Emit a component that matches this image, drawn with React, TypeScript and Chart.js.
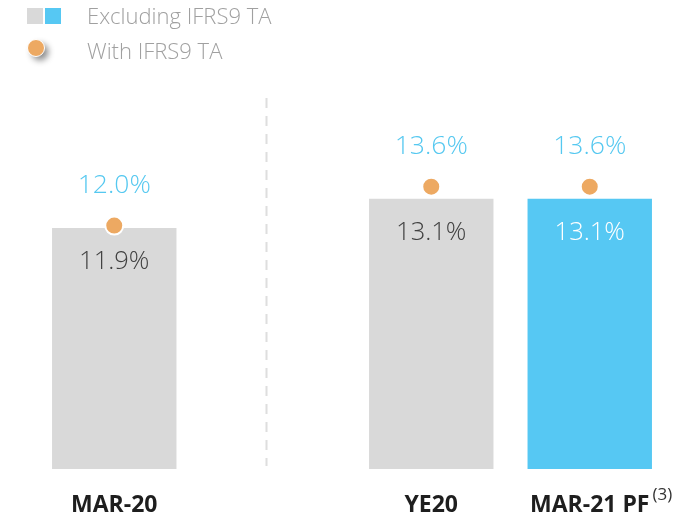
import React, { useEffect, useRef } from "react";
import { Chart, registerables } from "chart.js";

Chart.register(...registerables);

const categories = ["MAR-20", "", "YE20", "MAR-21 PF"];
const categoryNotes = ["", "", "", "(3)"];
const excludingValues = [11.9, null, 13.1, 13.1];
const withValues = [12.0, null, 13.6, 13.6];
const barColors = ["#d9d9d9", "#d9d9d9", "#d9d9d9", "#56c8f3"];
const barLabelColors = ["#404040", "#404040", "#404040", "#ffffff"];
const legendLabels = ["Excluding IFRS9 TA", "With IFRS9 TA"];

const FONT = "'Open Sans', 'Segoe UI', sans-serif";

const overlayPlugin = {
  id: "overlay",
  afterDatasetsDraw(chart: any) {
    const ctx = chart.ctx;
    const x = chart.scales.x;
    ctx.save();

    // dashed separator
    const p0 = x.getPixelForValue(0);
    const p2 = x.getPixelForValue(2);
    const sx = Math.round(p0 + 0.478 * (p2 - p0)) + 0.5;
    ctx.strokeStyle = "#dedede";
    ctx.lineWidth = 2;
    ctx.setLineDash([10, 8]);
    ctx.beginPath();
    ctx.moveTo(sx, 98);
    ctx.lineTo(sx, 466);
    ctx.stroke();
    ctx.setLineDash([]);

    // bar labels
    const barMeta = chart.getDatasetMeta(1);
    ctx.textAlign = "center";
    ctx.textBaseline = "middle";
    ctx.font = `300 25.5px ${FONT}`;
    barMeta.data.forEach((el: any, i: number) => {
      const v = excludingValues[i];
      if (v == null) return;
      ctx.fillStyle = barLabelColors[i];
      ctx.fillText(v.toFixed(1) + "%", el.x, el.y + 34);
    });

    // dot labels
    ctx.font = `300 26.5px ${FONT}`;
    const dotMeta = chart.getDatasetMeta(0);
    dotMeta.data.forEach((el: any, i: number) => {
      const v = withValues[i];
      if (v == null) return;
      ctx.fillStyle = "#55c8f0";
      ctx.fillText(v.toFixed(1) + "%", el.x, el.y - 40);
    });

    // category labels
    categories.forEach((c, i) => {
      if (!c) return;
      const cx = x.getPixelForValue(i);
      ctx.font = `bold 23px ${FONT}`;
      ctx.fillStyle = "#1e1e1e";
      ctx.textAlign = "center";
      ctx.fillText(c, cx, 505);
      if (categoryNotes[i]) {
        const w = ctx.measureText(c).width;
        ctx.font = `17px ${FONT}`;
        ctx.fillStyle = "#333";
        ctx.textAlign = "left";
        ctx.fillText(categoryNotes[i], cx + w / 2 + 3, 495);
      }
    });

    // legend
    ctx.fillStyle = barColors[0];
    ctx.fillRect(27, 8, 16, 16);
    ctx.fillStyle = barColors[3];
    ctx.fillRect(45, 8, 16, 16);

    ctx.save();
    ctx.shadowColor = "rgba(0,0,0,0.45)";
    ctx.shadowBlur = 6;
    ctx.shadowOffsetX = 4;
    ctx.shadowOffsetY = 4;
    ctx.beginPath();
    ctx.arc(36, 48, 8.5, 0, Math.PI * 2);
    ctx.fillStyle = "#eda962";
    ctx.fill();
    ctx.restore();
    ctx.beginPath();
    ctx.arc(36, 48, 8.5, 0, Math.PI * 2);
    ctx.strokeStyle = "#ffffff";
    ctx.lineWidth = 1;
    ctx.stroke();

    ctx.font = `300 22px ${FONT}`;
    ctx.fillStyle = "#a0a0a0";
    ctx.textAlign = "left";
    ctx.textBaseline = "middle";
    ctx.fillText(legendLabels[0], 87, 18);
    ctx.fillText(legendLabels[1], 87, 53);

    ctx.restore();
  },
};

export default function App() {
  const ref = useRef<HTMLCanvasElement>(null);
  useEffect(() => {
    if (!ref.current) return;
    const chart = new Chart(ref.current, {
      type: "bar",
      data: {
        labels: categories,
        datasets: [
          {
            type: "line",
            label: legendLabels[1],
            data: withValues,
            showLine: false,
            pointRadius: 9,
            pointBackgroundColor: "#eda962",
            pointBorderColor: "#ffffff",
            pointBorderWidth: 2,
            order: 0,
          } as any,
          {
            type: "bar",
            label: legendLabels[0],
            data: excludingValues,
            backgroundColor: barColors,
            borderWidth: 0,
            categoryPercentage: 1,
            barPercentage: 0.785,
            order: 1,
          },
        ],
      },
      options: {
        animation: false,
        responsive: true,
        maintainAspectRatio: false,
        layout: { padding: { left: 35, right: 31, top: 82, bottom: 48 } },
        plugins: { legend: { display: false }, tooltip: { enabled: false } },
        scales: {
          x: { display: false, offset: true },
          y: { display: false, min: 2, max: 17.9 },
        },
      },
      plugins: [overlayPlugin],
    });
    return () => chart.destroy();
  }, []);
  return (
    <div style={{ position: "absolute", left: 0, top: 0, width: 700, height: 517 }}>
      <canvas ref={ref} />
    </div>
  );
}
